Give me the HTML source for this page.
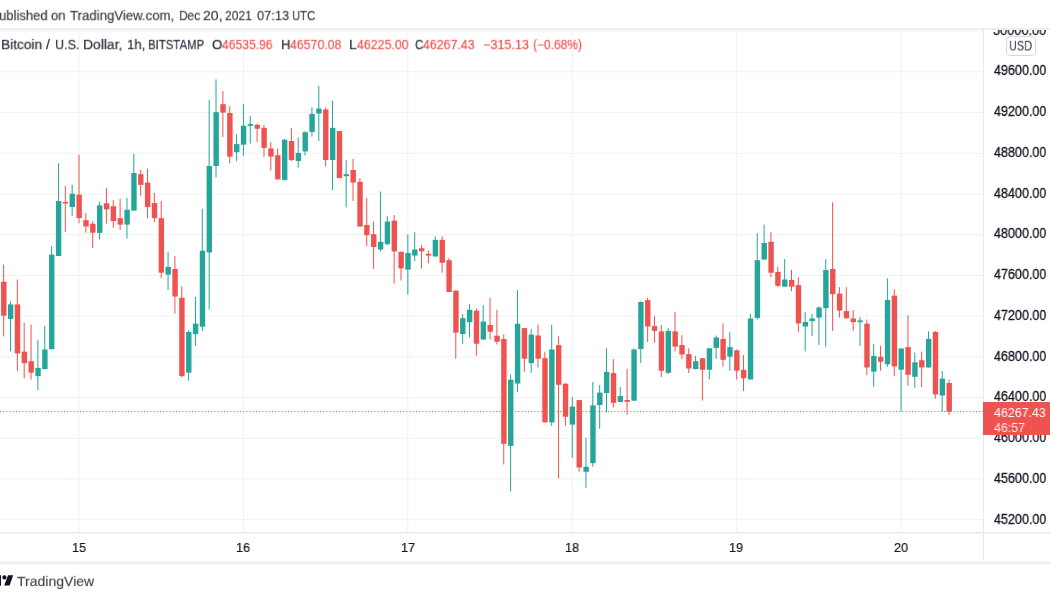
<!DOCTYPE html>
<html><head><meta charset="utf-8"><style>
html,body{margin:0;padding:0;background:#fff;}
body{width:1050px;height:600px;position:relative;overflow:hidden;font-family:"Liberation Sans",sans-serif;}
.chart{position:absolute;left:0;top:0;}
.t{position:absolute;white-space:nowrap;line-height:20px;transform-origin:0 0;will-change:transform;}
.hdr{position:absolute;left:0;top:0;width:1050px;height:28px;background:#fff;}
.hb{position:absolute;left:0;top:28px;width:1050px;height:2px;background:#eeeff3;}
.pax{position:absolute;left:983px;top:30px;width:1px;height:532px;background:#e6e8ec;}
.cb{position:absolute;left:0;top:532px;width:1050px;height:1px;background:#e7e8eb;}
.cb2{position:absolute;left:0;top:533px;width:1050px;height:1px;background:#f4f4f6;}
.bb{position:absolute;left:0;top:561px;width:1050px;height:4px;background:linear-gradient(#f6f7f9 0 25%,#eff0f4 25% 75%,#f9f9fb 75%);}
.usd{position:absolute;left:1006px;top:36px;width:28px;height:18px;border:1px solid #d6d9e0;border-radius:4px;background:#fff;}
.cur{position:absolute;left:983px;top:402px;width:67px;height:33px;background:#ef5350;}
</style></head><body>
<svg class="chart" width="1050" height="600" viewBox="0 0 1050 600">
<rect x="0" y="30.56" width="983" height="1" fill="#eff1f2"/><rect x="0" y="71.28" width="983" height="1" fill="#eff1f2"/><rect x="0" y="112.00" width="983" height="1" fill="#eff1f2"/><rect x="0" y="152.72" width="983" height="1" fill="#eff1f2"/><rect x="0" y="193.44" width="983" height="1" fill="#eff1f2"/><rect x="0" y="234.16" width="983" height="1" fill="#eff1f2"/><rect x="0" y="274.88" width="983" height="1" fill="#eff1f2"/><rect x="0" y="315.60" width="983" height="1" fill="#eff1f2"/><rect x="0" y="356.32" width="983" height="1" fill="#eff1f2"/><rect x="0" y="397.04" width="983" height="1" fill="#eff1f2"/><rect x="0" y="437.76" width="983" height="1" fill="#eff1f2"/><rect x="0" y="478.48" width="983" height="1" fill="#eff1f2"/><rect x="0" y="519.20" width="983" height="1" fill="#eff1f2"/><rect x="78.50" y="30" width="1" height="502" fill="#eff1f2"/><rect x="242.92" y="30" width="1" height="502" fill="#eff1f2"/><rect x="407.34" y="30" width="1" height="502" fill="#eff1f2"/><rect x="571.76" y="30" width="1" height="502" fill="#eff1f2"/><rect x="736.18" y="30" width="1" height="502" fill="#eff1f2"/><rect x="900.59" y="30" width="1" height="502" fill="#eff1f2"/>
<rect x="3.14" y="264.50" width="1" height="71.90" fill="#ef5350"/><rect x="1.09" y="281.75" width="5.4" height="33.95" fill="#ef5350"/><rect x="9.99" y="301.40" width="1" height="49.85" fill="#26a69a"/><rect x="7.94" y="304.40" width="5.4" height="14.50" fill="#26a69a"/><rect x="16.84" y="279.50" width="1" height="91.40" fill="#ef5350"/><rect x="14.79" y="304.40" width="5.4" height="49.00" fill="#ef5350"/><rect x="23.69" y="322.70" width="1" height="55.70" fill="#ef5350"/><rect x="21.64" y="351.60" width="5.4" height="11.60" fill="#ef5350"/><rect x="30.54" y="324.65" width="1" height="54.95" fill="#ef5350"/><rect x="28.49" y="361.20" width="5.4" height="11.40" fill="#ef5350"/><rect x="37.39" y="339.90" width="1" height="50.20" fill="#26a69a"/><rect x="35.34" y="367.90" width="5.4" height="8.20" fill="#26a69a"/><rect x="44.24" y="325.90" width="1" height="43.60" fill="#26a69a"/><rect x="42.19" y="349.50" width="5.4" height="19.60" fill="#26a69a"/><rect x="51.10" y="246.25" width="1" height="102.95" fill="#26a69a"/><rect x="49.05" y="254.60" width="5.4" height="94.60" fill="#26a69a"/><rect x="57.95" y="163.30" width="1" height="92.70" fill="#26a69a"/><rect x="55.90" y="201.00" width="5.4" height="55.00" fill="#26a69a"/><rect x="64.80" y="185.80" width="1" height="45.90" fill="#ef5350"/><rect x="62.75" y="201.90" width="5.4" height="1.60" fill="#ef5350"/><rect x="71.65" y="184.80" width="1" height="31.20" fill="#26a69a"/><rect x="69.60" y="193.75" width="5.4" height="13.25" fill="#26a69a"/><rect x="78.50" y="154.60" width="1" height="68.70" fill="#ef5350"/><rect x="76.45" y="194.60" width="5.4" height="23.40" fill="#ef5350"/><rect x="85.35" y="213.00" width="1" height="19.70" fill="#ef5350"/><rect x="83.30" y="220.20" width="5.4" height="6.30" fill="#ef5350"/><rect x="92.20" y="221.25" width="1" height="26.75" fill="#ef5350"/><rect x="90.15" y="223.75" width="5.4" height="8.95" fill="#ef5350"/><rect x="99.05" y="201.90" width="1" height="37.60" fill="#26a69a"/><rect x="97.00" y="205.40" width="5.4" height="27.50" fill="#26a69a"/><rect x="105.90" y="187.90" width="1" height="35.85" fill="#ef5350"/><rect x="103.85" y="203.30" width="5.4" height="6.10" fill="#ef5350"/><rect x="112.75" y="200.10" width="1" height="27.50" fill="#ef5350"/><rect x="110.70" y="206.25" width="5.4" height="14.85" fill="#ef5350"/><rect x="119.60" y="198.90" width="1" height="31.00" fill="#ef5350"/><rect x="117.55" y="218.15" width="5.4" height="6.45" fill="#ef5350"/><rect x="126.45" y="197.90" width="1" height="40.70" fill="#26a69a"/><rect x="124.40" y="209.75" width="5.4" height="14.85" fill="#26a69a"/><rect x="133.31" y="153.75" width="1" height="56.85" fill="#26a69a"/><rect x="131.26" y="173.00" width="5.4" height="37.60" fill="#26a69a"/><rect x="140.16" y="169.85" width="1" height="25.90" fill="#ef5350"/><rect x="138.11" y="174.20" width="5.4" height="10.70" fill="#ef5350"/><rect x="147.01" y="168.60" width="1" height="49.55" fill="#ef5350"/><rect x="144.96" y="182.60" width="5.4" height="24.50" fill="#ef5350"/><rect x="153.86" y="193.10" width="1" height="29.25" fill="#ef5350"/><rect x="151.81" y="203.10" width="5.4" height="15.05" fill="#ef5350"/><rect x="160.71" y="201.00" width="1" height="77.15" fill="#ef5350"/><rect x="158.66" y="218.15" width="5.4" height="54.55" fill="#ef5350"/><rect x="167.56" y="251.70" width="1" height="38.20" fill="#26a69a"/><rect x="165.51" y="266.80" width="5.4" height="7.85" fill="#26a69a"/><rect x="174.41" y="256.10" width="1" height="57.50" fill="#ef5350"/><rect x="172.36" y="268.90" width="5.4" height="27.60" fill="#ef5350"/><rect x="181.26" y="286.40" width="1" height="91.00" fill="#ef5350"/><rect x="179.21" y="297.75" width="5.4" height="78.35" fill="#ef5350"/><rect x="188.11" y="330.10" width="1" height="50.75" fill="#26a69a"/><rect x="186.06" y="332.00" width="5.4" height="40.60" fill="#26a69a"/><rect x="194.96" y="296.90" width="1" height="48.95" fill="#26a69a"/><rect x="192.91" y="323.60" width="5.4" height="10.50" fill="#26a69a"/><rect x="201.81" y="208.70" width="1" height="122.30" fill="#26a69a"/><rect x="199.76" y="250.70" width="5.4" height="76.00" fill="#26a69a"/><rect x="208.66" y="100.00" width="1" height="209.65" fill="#26a69a"/><rect x="206.61" y="166.00" width="5.4" height="86.50" fill="#26a69a"/><rect x="215.51" y="79.40" width="1" height="98.00" fill="#26a69a"/><rect x="213.46" y="112.10" width="5.4" height="53.90" fill="#26a69a"/><rect x="222.37" y="91.10" width="1" height="46.00" fill="#ef5350"/><rect x="220.32" y="104.20" width="5.4" height="8.40" fill="#ef5350"/><rect x="229.22" y="106.15" width="1" height="57.15" fill="#ef5350"/><rect x="227.17" y="113.00" width="5.4" height="43.60" fill="#ef5350"/><rect x="236.07" y="134.50" width="1" height="26.60" fill="#26a69a"/><rect x="234.02" y="144.10" width="5.4" height="8.10" fill="#26a69a"/><rect x="242.92" y="104.20" width="1" height="51.65" fill="#26a69a"/><rect x="240.87" y="125.75" width="5.4" height="18.90" fill="#26a69a"/><rect x="249.77" y="116.10" width="1" height="27.50" fill="#26a69a"/><rect x="247.72" y="124.00" width="5.4" height="1.75" fill="#26a69a"/><rect x="256.62" y="123.50" width="1" height="18.35" fill="#ef5350"/><rect x="254.57" y="124.90" width="5.4" height="3.80" fill="#ef5350"/><rect x="263.47" y="124.90" width="1" height="32.00" fill="#ef5350"/><rect x="261.42" y="127.85" width="5.4" height="20.05" fill="#ef5350"/><rect x="270.32" y="141.85" width="1" height="28.75" fill="#ef5350"/><rect x="268.27" y="148.40" width="5.4" height="8.20" fill="#ef5350"/><rect x="277.17" y="148.40" width="1" height="31.00" fill="#ef5350"/><rect x="275.12" y="155.20" width="5.4" height="24.20" fill="#ef5350"/><rect x="284.02" y="138.90" width="1" height="41.70" fill="#26a69a"/><rect x="281.97" y="139.75" width="5.4" height="40.15" fill="#26a69a"/><rect x="290.87" y="127.85" width="1" height="33.25" fill="#ef5350"/><rect x="288.82" y="141.00" width="5.4" height="19.10" fill="#ef5350"/><rect x="297.72" y="137.50" width="1" height="30.15" fill="#26a69a"/><rect x="295.67" y="152.90" width="5.4" height="8.00" fill="#26a69a"/><rect x="304.58" y="131.35" width="1" height="24.05" fill="#26a69a"/><rect x="302.53" y="132.20" width="5.4" height="19.20" fill="#26a69a"/><rect x="311.43" y="107.40" width="1" height="29.20" fill="#26a69a"/><rect x="309.38" y="113.85" width="5.4" height="18.05" fill="#26a69a"/><rect x="318.28" y="85.85" width="1" height="55.15" fill="#26a69a"/><rect x="316.23" y="108.60" width="5.4" height="4.90" fill="#26a69a"/><rect x="325.13" y="107.40" width="1" height="59.10" fill="#ef5350"/><rect x="323.08" y="109.50" width="5.4" height="50.50" fill="#ef5350"/><rect x="331.98" y="100.90" width="1" height="89.00" fill="#26a69a"/><rect x="329.93" y="127.85" width="5.4" height="32.15" fill="#26a69a"/><rect x="338.83" y="131.00" width="1" height="47.25" fill="#ef5350"/><rect x="336.78" y="131.00" width="5.4" height="47.10" fill="#ef5350"/><rect x="345.68" y="160.10" width="1" height="47.30" fill="#26a69a"/><rect x="343.63" y="174.20" width="5.4" height="2.00" fill="#26a69a"/><rect x="352.53" y="158.90" width="1" height="42.00" fill="#ef5350"/><rect x="350.48" y="170.00" width="5.4" height="12.50" fill="#ef5350"/><rect x="359.38" y="178.15" width="1" height="48.45" fill="#ef5350"/><rect x="357.33" y="181.75" width="5.4" height="44.75" fill="#ef5350"/><rect x="366.23" y="197.85" width="1" height="48.30" fill="#ef5350"/><rect x="364.18" y="225.00" width="5.4" height="10.20" fill="#ef5350"/><rect x="373.08" y="221.50" width="1" height="47.40" fill="#ef5350"/><rect x="371.03" y="234.25" width="5.4" height="12.75" fill="#ef5350"/><rect x="379.93" y="191.40" width="1" height="60.00" fill="#26a69a"/><rect x="377.88" y="241.80" width="5.4" height="7.70" fill="#26a69a"/><rect x="386.78" y="216.20" width="1" height="28.90" fill="#26a69a"/><rect x="384.73" y="221.50" width="5.4" height="22.70" fill="#26a69a"/><rect x="393.64" y="215.00" width="1" height="68.60" fill="#ef5350"/><rect x="391.59" y="220.60" width="5.4" height="30.80" fill="#ef5350"/><rect x="400.49" y="251.75" width="1" height="28.85" fill="#ef5350"/><rect x="398.44" y="251.75" width="5.4" height="16.65" fill="#ef5350"/><rect x="407.34" y="234.25" width="1" height="60.35" fill="#26a69a"/><rect x="405.29" y="253.00" width="5.4" height="16.60" fill="#26a69a"/><rect x="414.19" y="232.15" width="1" height="28.85" fill="#26a69a"/><rect x="412.14" y="249.50" width="5.4" height="6.10" fill="#26a69a"/><rect x="421.04" y="245.10" width="1" height="23.40" fill="#ef5350"/><rect x="418.99" y="248.25" width="5.4" height="3.15" fill="#ef5350"/><rect x="427.89" y="250.50" width="1" height="12.80" fill="#ef5350"/><rect x="425.84" y="253.85" width="5.4" height="1.75" fill="#ef5350"/><rect x="434.74" y="236.35" width="1" height="20.15" fill="#26a69a"/><rect x="432.69" y="239.85" width="5.4" height="16.65" fill="#26a69a"/><rect x="441.59" y="236.35" width="1" height="36.40" fill="#ef5350"/><rect x="439.54" y="239.85" width="5.4" height="22.95" fill="#ef5350"/><rect x="448.44" y="257.90" width="1" height="34.10" fill="#ef5350"/><rect x="446.39" y="260.15" width="5.4" height="31.85" fill="#ef5350"/><rect x="455.29" y="290.50" width="1" height="68.25" fill="#ef5350"/><rect x="453.24" y="290.60" width="5.4" height="42.00" fill="#ef5350"/><rect x="462.14" y="314.10" width="1" height="29.90" fill="#26a69a"/><rect x="460.09" y="318.20" width="5.4" height="15.80" fill="#26a69a"/><rect x="468.99" y="304.20" width="1" height="33.40" fill="#26a69a"/><rect x="466.94" y="309.80" width="5.4" height="12.40" fill="#26a69a"/><rect x="475.85" y="308.50" width="1" height="47.30" fill="#ef5350"/><rect x="473.80" y="310.70" width="5.4" height="33.00" fill="#ef5350"/><rect x="482.70" y="305.20" width="1" height="34.80" fill="#26a69a"/><rect x="480.65" y="321.60" width="5.4" height="17.90" fill="#26a69a"/><rect x="489.55" y="297.70" width="1" height="41.80" fill="#ef5350"/><rect x="487.50" y="325.00" width="5.4" height="6.80" fill="#ef5350"/><rect x="496.40" y="309.80" width="1" height="34.80" fill="#ef5350"/><rect x="494.35" y="335.70" width="5.4" height="6.00" fill="#ef5350"/><rect x="503.25" y="334.25" width="1" height="130.15" fill="#ef5350"/><rect x="501.20" y="339.00" width="5.4" height="104.80" fill="#ef5350"/><rect x="510.10" y="374.50" width="1" height="116.75" fill="#26a69a"/><rect x="508.05" y="379.75" width="5.4" height="66.15" fill="#26a69a"/><rect x="516.95" y="290.15" width="1" height="102.10" fill="#26a69a"/><rect x="514.90" y="323.75" width="5.4" height="59.75" fill="#26a69a"/><rect x="523.80" y="328.10" width="1" height="43.80" fill="#ef5350"/><rect x="521.75" y="328.10" width="5.4" height="30.65" fill="#ef5350"/><rect x="530.65" y="329.00" width="1" height="43.75" fill="#26a69a"/><rect x="528.60" y="334.60" width="5.4" height="28.50" fill="#26a69a"/><rect x="537.50" y="324.60" width="1" height="42.90" fill="#ef5350"/><rect x="535.45" y="335.50" width="5.4" height="23.25" fill="#ef5350"/><rect x="544.35" y="351.70" width="1" height="70.65" fill="#ef5350"/><rect x="542.30" y="358.15" width="5.4" height="64.20" fill="#ef5350"/><rect x="551.20" y="324.85" width="1" height="101.00" fill="#26a69a"/><rect x="549.15" y="349.50" width="5.4" height="72.85" fill="#26a69a"/><rect x="558.05" y="336.40" width="1" height="142.00" fill="#ef5350"/><rect x="556.00" y="345.15" width="5.4" height="39.65" fill="#ef5350"/><rect x="564.91" y="383.00" width="1" height="42.85" fill="#ef5350"/><rect x="562.86" y="383.75" width="5.4" height="33.00" fill="#ef5350"/><rect x="571.76" y="396.80" width="1" height="61.00" fill="#26a69a"/><rect x="569.71" y="406.60" width="5.4" height="18.00" fill="#26a69a"/><rect x="578.61" y="400.10" width="1" height="71.70" fill="#ef5350"/><rect x="576.56" y="400.10" width="5.4" height="67.40" fill="#ef5350"/><rect x="585.46" y="437.80" width="1" height="49.95" fill="#26a69a"/><rect x="583.41" y="466.80" width="5.4" height="5.00" fill="#26a69a"/><rect x="592.31" y="381.90" width="1" height="84.80" fill="#26a69a"/><rect x="590.26" y="405.45" width="5.4" height="57.75" fill="#26a69a"/><rect x="599.16" y="385.00" width="1" height="43.80" fill="#26a69a"/><rect x="597.11" y="392.60" width="5.4" height="12.40" fill="#26a69a"/><rect x="606.01" y="348.10" width="1" height="64.40" fill="#26a69a"/><rect x="603.96" y="371.90" width="5.4" height="21.10" fill="#26a69a"/><rect x="612.86" y="359.15" width="1" height="48.35" fill="#ef5350"/><rect x="610.81" y="373.10" width="5.4" height="29.75" fill="#ef5350"/><rect x="619.71" y="387.00" width="1" height="15.00" fill="#26a69a"/><rect x="617.66" y="396.00" width="5.4" height="6.00" fill="#26a69a"/><rect x="626.56" y="368.80" width="1" height="46.00" fill="#ef5350"/><rect x="624.51" y="400.00" width="5.4" height="1.80" fill="#ef5350"/><rect x="633.41" y="348.40" width="1" height="52.40" fill="#26a69a"/><rect x="631.36" y="349.45" width="5.4" height="51.25" fill="#26a69a"/><rect x="640.26" y="301.30" width="1" height="61.80" fill="#26a69a"/><rect x="638.21" y="302.00" width="5.4" height="47.00" fill="#26a69a"/><rect x="647.12" y="297.80" width="1" height="44.10" fill="#ef5350"/><rect x="645.07" y="300.20" width="5.4" height="26.30" fill="#ef5350"/><rect x="653.97" y="316.15" width="1" height="26.60" fill="#ef5350"/><rect x="651.92" y="326.10" width="5.4" height="4.75" fill="#ef5350"/><rect x="660.82" y="324.90" width="1" height="52.10" fill="#ef5350"/><rect x="658.77" y="331.40" width="5.4" height="39.40" fill="#ef5350"/><rect x="667.67" y="327.90" width="1" height="46.10" fill="#26a69a"/><rect x="665.62" y="330.85" width="5.4" height="41.95" fill="#26a69a"/><rect x="674.52" y="311.80" width="1" height="39.70" fill="#ef5350"/><rect x="672.47" y="331.40" width="5.4" height="15.20" fill="#ef5350"/><rect x="681.37" y="335.20" width="1" height="23.65" fill="#ef5350"/><rect x="679.32" y="345.00" width="5.4" height="9.50" fill="#ef5350"/><rect x="688.22" y="348.35" width="1" height="24.50" fill="#ef5350"/><rect x="686.17" y="354.10" width="5.4" height="14.40" fill="#ef5350"/><rect x="695.07" y="355.90" width="1" height="13.60" fill="#26a69a"/><rect x="693.02" y="361.20" width="5.4" height="7.80" fill="#26a69a"/><rect x="701.92" y="358.20" width="1" height="42.40" fill="#ef5350"/><rect x="699.87" y="358.20" width="5.4" height="11.60" fill="#ef5350"/><rect x="708.77" y="348.30" width="1" height="31.20" fill="#26a69a"/><rect x="706.72" y="348.30" width="5.4" height="21.50" fill="#26a69a"/><rect x="715.62" y="335.40" width="1" height="23.40" fill="#26a69a"/><rect x="713.57" y="337.50" width="5.4" height="10.40" fill="#26a69a"/><rect x="722.47" y="323.50" width="1" height="43.00" fill="#ef5350"/><rect x="720.42" y="338.90" width="5.4" height="20.90" fill="#ef5350"/><rect x="729.32" y="331.90" width="1" height="38.90" fill="#26a69a"/><rect x="727.27" y="347.15" width="5.4" height="9.55" fill="#26a69a"/><rect x="736.18" y="349.50" width="1" height="30.00" fill="#ef5350"/><rect x="734.13" y="350.30" width="5.4" height="20.40" fill="#ef5350"/><rect x="743.03" y="355.00" width="1" height="36.10" fill="#ef5350"/><rect x="740.98" y="369.80" width="5.4" height="8.40" fill="#ef5350"/><rect x="749.88" y="313.90" width="1" height="65.60" fill="#26a69a"/><rect x="747.83" y="318.50" width="5.4" height="61.00" fill="#26a69a"/><rect x="756.73" y="233.40" width="1" height="86.25" fill="#26a69a"/><rect x="754.68" y="260.15" width="5.4" height="57.75" fill="#26a69a"/><rect x="763.58" y="224.60" width="1" height="35.00" fill="#26a69a"/><rect x="761.53" y="243.00" width="5.4" height="16.60" fill="#26a69a"/><rect x="770.43" y="232.15" width="1" height="44.95" fill="#ef5350"/><rect x="768.38" y="241.80" width="5.4" height="30.95" fill="#ef5350"/><rect x="777.28" y="266.60" width="1" height="20.15" fill="#ef5350"/><rect x="775.23" y="271.90" width="5.4" height="13.90" fill="#ef5350"/><rect x="784.13" y="259.10" width="1" height="27.60" fill="#26a69a"/><rect x="782.08" y="279.50" width="5.4" height="7.20" fill="#26a69a"/><rect x="790.98" y="269.80" width="1" height="21.40" fill="#ef5350"/><rect x="788.93" y="279.90" width="5.4" height="6.80" fill="#ef5350"/><rect x="797.83" y="277.20" width="1" height="54.90" fill="#ef5350"/><rect x="795.78" y="285.10" width="5.4" height="38.30" fill="#ef5350"/><rect x="804.68" y="312.00" width="1" height="39.40" fill="#26a69a"/><rect x="802.63" y="322.00" width="5.4" height="4.50" fill="#26a69a"/><rect x="811.53" y="314.00" width="1" height="22.15" fill="#26a69a"/><rect x="809.48" y="318.50" width="5.4" height="2.60" fill="#26a69a"/><rect x="818.39" y="306.35" width="1" height="38.55" fill="#26a69a"/><rect x="816.34" y="307.50" width="5.4" height="10.10" fill="#26a69a"/><rect x="825.24" y="259.10" width="1" height="87.55" fill="#26a69a"/><rect x="823.19" y="270.00" width="5.4" height="38.15" fill="#26a69a"/><rect x="832.09" y="202.25" width="1" height="128.65" fill="#ef5350"/><rect x="830.04" y="269.00" width="5.4" height="25.10" fill="#ef5350"/><rect x="838.94" y="287.10" width="1" height="30.50" fill="#ef5350"/><rect x="836.89" y="293.60" width="5.4" height="17.00" fill="#ef5350"/><rect x="845.79" y="287.10" width="1" height="31.90" fill="#ef5350"/><rect x="843.74" y="311.10" width="5.4" height="7.00" fill="#ef5350"/><rect x="852.64" y="309.90" width="1" height="21.00" fill="#ef5350"/><rect x="850.59" y="318.50" width="5.4" height="3.65" fill="#ef5350"/><rect x="859.49" y="317.10" width="1" height="28.90" fill="#26a69a"/><rect x="857.44" y="320.45" width="5.4" height="1.75" fill="#26a69a"/><rect x="866.34" y="319.50" width="1" height="55.60" fill="#ef5350"/><rect x="864.29" y="323.70" width="5.4" height="43.75" fill="#ef5350"/><rect x="873.19" y="344.20" width="1" height="42.60" fill="#26a69a"/><rect x="871.14" y="355.90" width="5.4" height="15.70" fill="#26a69a"/><rect x="880.04" y="345.90" width="1" height="24.70" fill="#ef5350"/><rect x="877.99" y="356.90" width="5.4" height="4.85" fill="#ef5350"/><rect x="886.89" y="278.40" width="1" height="88.30" fill="#26a69a"/><rect x="884.84" y="300.00" width="5.4" height="64.30" fill="#26a69a"/><rect x="893.74" y="289.30" width="1" height="86.90" fill="#ef5350"/><rect x="891.69" y="295.65" width="5.4" height="70.75" fill="#ef5350"/><rect x="900.59" y="348.50" width="1" height="63.00" fill="#26a69a"/><rect x="898.54" y="348.50" width="5.4" height="21.20" fill="#26a69a"/><rect x="907.45" y="315.25" width="1" height="70.55" fill="#ef5350"/><rect x="905.40" y="347.10" width="5.4" height="27.70" fill="#ef5350"/><rect x="914.30" y="352.50" width="1" height="35.30" fill="#26a69a"/><rect x="912.25" y="362.30" width="5.4" height="14.50" fill="#26a69a"/><rect x="921.15" y="351.50" width="1" height="35.50" fill="#ef5350"/><rect x="919.10" y="360.20" width="5.4" height="7.30" fill="#ef5350"/><rect x="928.00" y="331.35" width="1" height="36.15" fill="#26a69a"/><rect x="925.95" y="338.90" width="5.4" height="28.60" fill="#26a69a"/><rect x="934.85" y="331.00" width="1" height="67.70" fill="#ef5350"/><rect x="932.80" y="331.90" width="5.4" height="62.50" fill="#ef5350"/><rect x="941.70" y="371.00" width="1" height="40.70" fill="#26a69a"/><rect x="939.65" y="378.70" width="5.4" height="16.80" fill="#26a69a"/><rect x="948.55" y="379.50" width="1" height="35.50" fill="#ef5350"/><rect x="946.50" y="383.00" width="5.4" height="28.70" fill="#ef5350"/>
<line x1="0" y1="411.5" x2="983" y2="411.5" stroke="#ef5350" stroke-width="1" stroke-dasharray="1 2.2"/>
</svg>
<div class="t" style="left:993.29px;top:19.65px;font-size:14px;color:#131722;transform:scale(0.9123,1.0);-webkit-text-stroke:0.3px #131722;">50000.00</div><div class="t" style="left:994.20px;top:60.40px;font-size:14px;color:#131722;transform:scale(0.8966,1.0);-webkit-text-stroke:0.3px #131722;">49600.00</div><div class="t" style="left:994.20px;top:101.15px;font-size:14px;color:#131722;transform:scale(0.8966,1.0);-webkit-text-stroke:0.3px #131722;">49200.00</div><div class="t" style="left:994.20px;top:141.90px;font-size:14px;color:#131722;transform:scale(0.8966,1.0);-webkit-text-stroke:0.3px #131722;">48800.00</div><div class="t" style="left:994.20px;top:182.66px;font-size:14px;color:#131722;transform:scale(0.8966,1.0);-webkit-text-stroke:0.3px #131722;">48400.00</div><div class="t" style="left:994.20px;top:223.41px;font-size:14px;color:#131722;transform:scale(0.8966,1.0);-webkit-text-stroke:0.3px #131722;">48000.00</div><div class="t" style="left:994.20px;top:264.16px;font-size:14px;color:#131722;transform:scale(0.8966,1.0);-webkit-text-stroke:0.3px #131722;">47600.00</div><div class="t" style="left:994.20px;top:304.91px;font-size:14px;color:#131722;transform:scale(0.8966,1.0);-webkit-text-stroke:0.3px #131722;">47200.00</div><div class="t" style="left:994.20px;top:345.66px;font-size:14px;color:#131722;transform:scale(0.8966,1.0);-webkit-text-stroke:0.3px #131722;">46800.00</div><div class="t" style="left:994.20px;top:386.42px;font-size:14px;color:#131722;transform:scale(0.8966,1.0);-webkit-text-stroke:0.3px #131722;">46400.00</div><div class="t" style="left:994.20px;top:427.17px;font-size:14px;color:#131722;transform:scale(0.8966,1.0);-webkit-text-stroke:0.3px #131722;">46000.00</div><div class="t" style="left:994.20px;top:467.92px;font-size:14px;color:#131722;transform:scale(0.8966,1.0);-webkit-text-stroke:0.3px #131722;">45600.00</div><div class="t" style="left:994.20px;top:508.67px;font-size:14px;color:#131722;transform:scale(0.8966,1.0);-webkit-text-stroke:0.3px #131722;">45200.00</div>
<div class="hdr"></div>
<div class="t" style="left:-0.73px;top:5.85px;font-size:14px;color:#3b3e48;transform:scale(0.9340,0.95);-webkit-text-stroke:0.2px #3b3e48;">ublished</div><div class="t" style="left:51.06px;top:5.85px;font-size:14px;color:#3b3e48;transform:scale(0.9357,0.95);-webkit-text-stroke:0.2px #3b3e48;">on</div><div class="t" style="left:69.90px;top:5.85px;font-size:14px;color:#3b3e48;transform:scale(0.9422,0.95);-webkit-text-stroke:0.2px #3b3e48;">TradingView.com,</div><div class="t" style="left:178.55px;top:5.85px;font-size:14px;color:#3b3e48;transform:scale(0.8478,0.95);-webkit-text-stroke:0.2px #3b3e48;">Dec</div><div class="t" style="left:202.99px;top:5.85px;font-size:14px;color:#3b3e48;transform:scale(1.0059,0.95);-webkit-text-stroke:0.2px #3b3e48;">20,</div><div class="t" style="left:225.43px;top:5.85px;font-size:14px;color:#3b3e48;transform:scale(0.8655,0.95);-webkit-text-stroke:0.2px #3b3e48;">2021</div><div class="t" style="left:256.80px;top:5.85px;font-size:14px;color:#3b3e48;transform:scale(0.9176,0.95);-webkit-text-stroke:0.2px #3b3e48;">07:13</div><div class="t" style="left:292.29px;top:5.85px;font-size:14px;color:#3b3e48;transform:scale(0.8074,0.95);-webkit-text-stroke:0.2px #3b3e48;">UTC</div>
<div class="hb"></div>
<div class="t" style="left:0.82px;top:35.15px;font-size:14px;color:#2a2e39;transform:scale(0.9800,0.95);-webkit-text-stroke:0.2px #2a2e39;">Bitcoin</div><div class="t" style="left:46.00px;top:35.15px;font-size:14px;color:#2a2e39;transform:scale(1.0000,0.95);-webkit-text-stroke:0.2px #2a2e39;">/</div><div class="t" style="left:55.10px;top:35.15px;font-size:14px;color:#2a2e39;transform:scale(0.9000,0.95);-webkit-text-stroke:0.2px #2a2e39;">U.S.</div><div class="t" style="left:83.31px;top:35.15px;font-size:14px;color:#2a2e39;transform:scale(0.9892,0.95);-webkit-text-stroke:0.2px #2a2e39;">Dollar,</div><div class="t" style="left:126.75px;top:35.15px;font-size:14px;color:#2a2e39;transform:scale(0.9471,0.95);-webkit-text-stroke:0.2px #2a2e39;">1h,</div><div class="t" style="left:148.49px;top:35.15px;font-size:14px;color:#2a2e39;transform:scale(0.8134,0.95);-webkit-text-stroke:0.2px #2a2e39;">BITSTAMP</div><div class="t" style="left:212.26px;top:35.15px;font-size:14px;color:#2a2e39;transform:scale(0.9444,0.95);-webkit-text-stroke:0.2px #2a2e39;">O</div><div class="t" style="left:222.20px;top:35.15px;font-size:14px;color:#ef5350;transform:scale(0.8672,0.95);-webkit-text-stroke:0.15px #ef5350;">46535.96</div><div class="t" style="left:280.76px;top:35.15px;font-size:14px;color:#2a2e39;transform:scale(0.9375,0.95);-webkit-text-stroke:0.2px #2a2e39;">H</div><div class="t" style="left:290.30px;top:35.15px;font-size:14px;color:#ef5350;transform:scale(0.8810,0.95);-webkit-text-stroke:0.15px #ef5350;">46570.08</div><div class="t" style="left:349.00px;top:35.15px;font-size:14px;color:#2a2e39;transform:scale(1.0000,0.95);-webkit-text-stroke:0.2px #2a2e39;">L</div><div class="t" style="left:356.50px;top:35.15px;font-size:14px;color:#ef5350;transform:scale(0.8845,0.95);-webkit-text-stroke:0.15px #ef5350;">46225.00</div><div class="t" style="left:415.38px;top:35.15px;font-size:14px;color:#2a2e39;transform:scale(0.8250,0.95);-webkit-text-stroke:0.2px #2a2e39;">C</div><div class="t" style="left:423.40px;top:35.15px;font-size:14px;color:#ef5350;transform:scale(0.8845,0.95);-webkit-text-stroke:0.15px #ef5350;">46267.43</div><div class="t" style="left:483.30px;top:35.15px;font-size:14px;color:#ef5350;transform:scale(0.9000,0.95);-webkit-text-stroke:0.15px #ef5350;">&minus;315.13</div><div class="t" style="left:532.84px;top:35.15px;font-size:14px;color:#ef5350;transform:scale(0.8564,0.95);-webkit-text-stroke:0.15px #ef5350;">(&minus;0.68%)</div>
<div class="pax"></div>
<div class="cb"></div><div class="cb2"></div>
<div class="usd"></div>
<div class="t" style="left:1009.32px;top:36.20px;font-size:14px;color:#2a2e39;transform:scale(0.7821,0.96);">USD</div>
<div class="cur"></div>
<div class="t" style="left:994.30px;top:403.00px;font-size:13px;color:#ffffff;transform:scale(0.9537,1.0);">46267.43</div><div class="t" style="left:994.30px;top:418.30px;font-size:13px;color:#fde8e7;transform:scale(0.9531,1.0);">46:57</div>
<div class="t" style="left:71.73px;top:537.60px;font-size:13px;color:#131722;transform:scale(0.9692,1.0);-webkit-text-stroke:0.2px #131722;">15</div><div class="t" style="left:236.15px;top:537.60px;font-size:13px;color:#131722;transform:scale(0.9692,1.0);-webkit-text-stroke:0.2px #131722;">16</div><div class="t" style="left:400.57px;top:537.60px;font-size:13px;color:#131722;transform:scale(0.9692,1.0);-webkit-text-stroke:0.2px #131722;">17</div><div class="t" style="left:564.99px;top:537.60px;font-size:13px;color:#131722;transform:scale(0.9692,1.0);-webkit-text-stroke:0.2px #131722;">18</div><div class="t" style="left:729.41px;top:537.60px;font-size:13px;color:#131722;transform:scale(0.9692,1.0);-webkit-text-stroke:0.2px #131722;">19</div><div class="t" style="left:893.83px;top:537.60px;font-size:13px;color:#131722;transform:scale(0.9692,1.0);-webkit-text-stroke:0.2px #131722;">20</div>
<div class="bb"></div>
<svg style="position:absolute;left:0;top:0" width="30" height="600" viewBox="0 0 30 600">
<rect x="-3" y="575.2" width="4" height="10.4" fill="#131722"/>
<circle cx="4.4" cy="577.4" r="2.1" fill="#131722"/>
<polygon points="8,575.2 13.2,575.2 9.6,585.6 4.2,585.6" fill="#131722"/>
</svg>
<div class="t" style="left:17.20px;top:571.60px;font-size:14px;color:#454852;transform:scale(1.0026,0.94);-webkit-text-stroke:0.15px #454852;">TradingView</div>
</body></html>
